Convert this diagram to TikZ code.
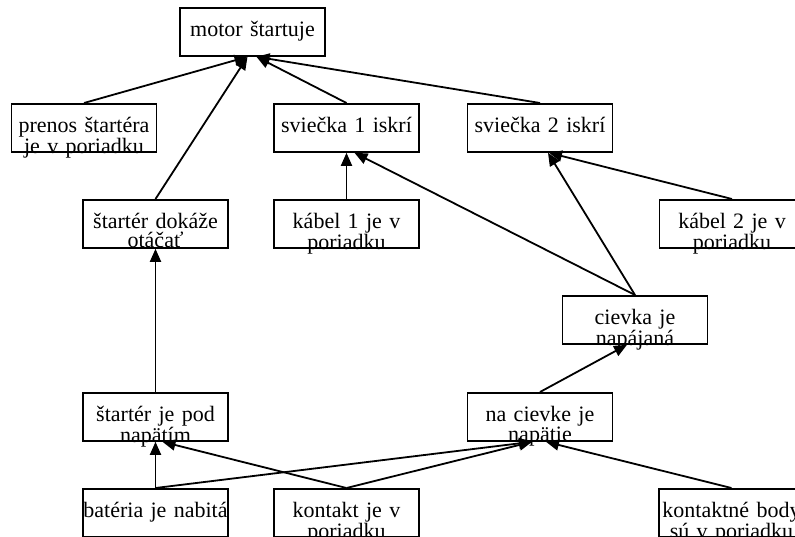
\documentclass[tikz,border=0pt]{standalone}
\usepackage{fontspec}
\setmainfont{Liberation Serif}
\usetikzlibrary{arrows.meta}
\tikzset{
    fact/.style={draw, line width=1.8pt, rectangle, anchor=north, inner sep=0pt,
        text width=145pt, align=center, text height=28.5pt, text depth=19.5pt,
        font=\fontsize{22}{19}\selectfont},
    link/.style={line width=1.8pt, -{Triangle[length=13pt,width=11pt]}}
}
\begin{document}
\begin{tikzpicture}[x=1pt, y=-1pt]
            \useasboundingbox (0,0) rectangle (795,536);

            \node[fact] (motor) at (252.5, 7) {motor štartuje};

            \node[fact] (prenos) at (84, 103) {prenos štartéra\\je v poriadku};
            \node[fact] (svieckaA) at (346.5, 103) {sviečka 1 iskrí};
            \node[fact] (svieckaB) at (540, 103) {sviečka 2 iskrí};

            \node[fact] (otacat) at (155.5, 199) {štartér dokáže\\otáčať};
            \node[fact] (kabelA) at (346.5, 199) {kábel 1 je v\\poriadku};
            \node[fact] (kabelB) at (732, 199) {kábel 2 je v\\poriadku};

            \node[fact] (cievka) at (635, 295) {cievka je\\napájaná};

            \node[fact] (napatie) at (155.5, 392) {štartér je pod\\napätím};
            \node[fact] (naCievke) at (540, 392) {na cievke je\\napätie};

            \node[fact] (bateria) at (155.5, 488) {batéria je nabitá};
            \node[fact] (kontakt) at (346.5, 488) {kontakt je v\\poriadku};
            \node[fact] (body) at (731.5, 488) {kontaktné body\\sú v poriadku};

            \draw[link] (prenos.north) -- ([xshift=-5]motor.south);
            \draw[link] (otacat.north) -- ([xshift=-5]motor.south);
            \draw[link] (svieckaA.north) -- ([xshift=4]motor.south);
            \draw[link] (svieckaB.north) -- ([xshift=4]motor.south);

            \draw[link] (kabelA.north) -- (svieckaA.south);
            \draw[link] (cievka.north) -- ([xshift=8]svieckaA.south);
            \draw[link] (cievka.north) -- ([xshift=8]svieckaB.south);
            \draw[link] (kabelB.north) -- ([xshift=9]svieckaB.south);

            \draw[link] (napatie.north) -- (otacat.south);
            \draw[link] (naCievke.north) -- ([xshift=-8]cievka.south);

            \draw[link] (bateria.north) -- (napatie.south);
            \draw[link] (kontakt.north) -- ([xshift=7]napatie.south);
            \draw[link] (bateria.north) -- ([xshift=-8]naCievke.south);
            \draw[link] (kontakt.north) -- ([xshift=-8]naCievke.south);
            \draw[link] (body.north) -- ([xshift=6]naCievke.south);
        \end{tikzpicture}
\end{document}
